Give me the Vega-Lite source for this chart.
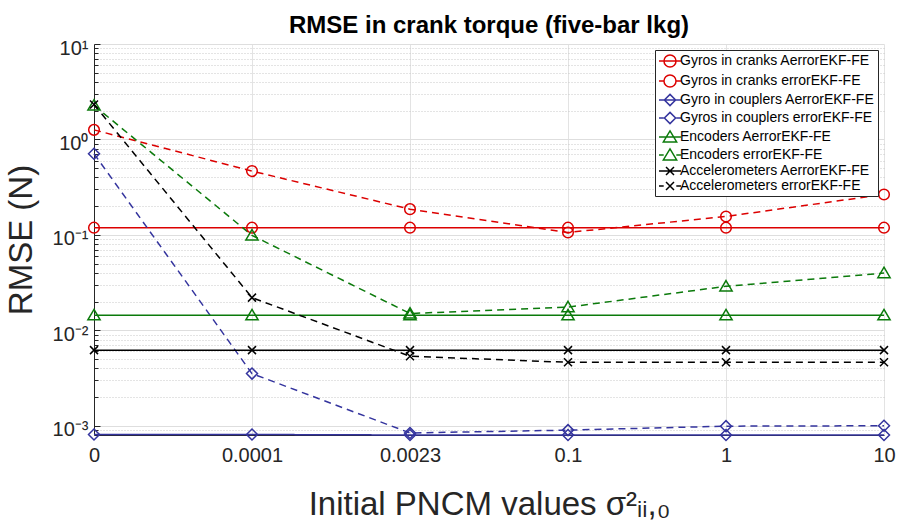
{
  "$schema": "https://vega.github.io/schema/vega-lite/v6.json",
  "width": 790,
  "height": 391,
  "autosize": "none",
  "padding": {"left": 94, "top": 44, "right": 14, "bottom": 97},
  "background": "white",
  "config": {
    "font": "Liberation Sans",
    "view": {"stroke": null},
    "legend": {
      "orient": "top-right",
      "offset": 6,
      "padding": 3,
      "strokeColor": "#262626",
      "fillColor": "white",
      "labelFontSize": 14,
      "labelFont": "Liberation Sans",
      "labelColor": "#000000",
      "labelLimit": 400,
      "labelOffset": 2,
      "symbolOffset": 4,
      "symbolSize": 196,
      "symbolStrokeWidth": 1.5,
      "rowPadding": 0,
      "title": null
    }
  },
  "title": {
    "text": "RMSE in crank torque (five-bar lkg)",
    "fontSize": 24,
    "fontWeight": "bold",
    "font": "Liberation Sans",
    "color": "#000000",
    "anchor": "middle",
    "offset": 0
  },
  "data": {
    "values": [
      {"series": "Gyros in cranks AerrorEKF-FE", "estimator": "AerrorEKF-FE", "sigma": "0", "rmse": 0.119},
      {"series": "Gyros in cranks AerrorEKF-FE", "estimator": "AerrorEKF-FE", "sigma": "0.0001", "rmse": 0.119},
      {"series": "Gyros in cranks AerrorEKF-FE", "estimator": "AerrorEKF-FE", "sigma": "0.0023", "rmse": 0.119},
      {"series": "Gyros in cranks AerrorEKF-FE", "estimator": "AerrorEKF-FE", "sigma": "0.1", "rmse": 0.119},
      {"series": "Gyros in cranks AerrorEKF-FE", "estimator": "AerrorEKF-FE", "sigma": "1", "rmse": 0.119},
      {"series": "Gyros in cranks AerrorEKF-FE", "estimator": "AerrorEKF-FE", "sigma": "10", "rmse": 0.119},
      {"series": "Gyros in cranks errorEKF-FE", "estimator": "errorEKF-FE", "sigma": "0", "rmse": 1.26},
      {"series": "Gyros in cranks errorEKF-FE", "estimator": "errorEKF-FE", "sigma": "0.0001", "rmse": 0.466},
      {"series": "Gyros in cranks errorEKF-FE", "estimator": "errorEKF-FE", "sigma": "0.0023", "rmse": 0.186},
      {"series": "Gyros in cranks errorEKF-FE", "estimator": "errorEKF-FE", "sigma": "0.1", "rmse": 0.106},
      {"series": "Gyros in cranks errorEKF-FE", "estimator": "errorEKF-FE", "sigma": "1", "rmse": 0.156},
      {"series": "Gyros in cranks errorEKF-FE", "estimator": "errorEKF-FE", "sigma": "10", "rmse": 0.265},
      {"series": "Gyro in couplers AerrorEKF-FE", "estimator": "AerrorEKF-FE", "sigma": "0", "rmse": 0.00081},
      {"series": "Gyro in couplers AerrorEKF-FE", "estimator": "AerrorEKF-FE", "sigma": "0.0001", "rmse": 0.00081},
      {"series": "Gyro in couplers AerrorEKF-FE", "estimator": "AerrorEKF-FE", "sigma": "0.0023", "rmse": 0.0008},
      {"series": "Gyro in couplers AerrorEKF-FE", "estimator": "AerrorEKF-FE", "sigma": "0.1", "rmse": 0.0008},
      {"series": "Gyro in couplers AerrorEKF-FE", "estimator": "AerrorEKF-FE", "sigma": "1", "rmse": 0.0008},
      {"series": "Gyro in couplers AerrorEKF-FE", "estimator": "AerrorEKF-FE", "sigma": "10", "rmse": 0.0008},
      {"series": "Gyros in couplers errorEKF-FE", "estimator": "errorEKF-FE", "sigma": "0", "rmse": 0.708},
      {"series": "Gyros in couplers errorEKF-FE", "estimator": "errorEKF-FE", "sigma": "0.0001", "rmse": 0.00352},
      {"series": "Gyros in couplers errorEKF-FE", "estimator": "errorEKF-FE", "sigma": "0.0023", "rmse": 0.00084},
      {"series": "Gyros in couplers errorEKF-FE", "estimator": "errorEKF-FE", "sigma": "0.1", "rmse": 0.0009},
      {"series": "Gyros in couplers errorEKF-FE", "estimator": "errorEKF-FE", "sigma": "1", "rmse": 0.00099},
      {"series": "Gyros in couplers errorEKF-FE", "estimator": "errorEKF-FE", "sigma": "10", "rmse": 0.001},
      {"series": "Encoders AerrorEKF-FE", "estimator": "AerrorEKF-FE", "sigma": "0", "rmse": 0.0144},
      {"series": "Encoders AerrorEKF-FE", "estimator": "AerrorEKF-FE", "sigma": "0.0001", "rmse": 0.0144},
      {"series": "Encoders AerrorEKF-FE", "estimator": "AerrorEKF-FE", "sigma": "0.0023", "rmse": 0.0144},
      {"series": "Encoders AerrorEKF-FE", "estimator": "AerrorEKF-FE", "sigma": "0.1", "rmse": 0.0144},
      {"series": "Encoders AerrorEKF-FE", "estimator": "AerrorEKF-FE", "sigma": "1", "rmse": 0.0144},
      {"series": "Encoders AerrorEKF-FE", "estimator": "AerrorEKF-FE", "sigma": "10", "rmse": 0.0144},
      {"series": "Encoders errorEKF-FE", "estimator": "errorEKF-FE", "sigma": "0", "rmse": 2.27},
      {"series": "Encoders errorEKF-FE", "estimator": "errorEKF-FE", "sigma": "0.0001", "rmse": 0.0988},
      {"series": "Encoders errorEKF-FE", "estimator": "errorEKF-FE", "sigma": "0.0023", "rmse": 0.015},
      {"series": "Encoders errorEKF-FE", "estimator": "errorEKF-FE", "sigma": "0.1", "rmse": 0.0175},
      {"series": "Encoders errorEKF-FE", "estimator": "errorEKF-FE", "sigma": "1", "rmse": 0.0289},
      {"series": "Encoders errorEKF-FE", "estimator": "errorEKF-FE", "sigma": "10", "rmse": 0.0398},
      {"series": "Accelerometers AerrorEKF-FE", "estimator": "AerrorEKF-FE", "sigma": "0", "rmse": 0.0062},
      {"series": "Accelerometers AerrorEKF-FE", "estimator": "AerrorEKF-FE", "sigma": "0.0001", "rmse": 0.0062},
      {"series": "Accelerometers AerrorEKF-FE", "estimator": "AerrorEKF-FE", "sigma": "0.0023", "rmse": 0.0062},
      {"series": "Accelerometers AerrorEKF-FE", "estimator": "AerrorEKF-FE", "sigma": "0.1", "rmse": 0.0062},
      {"series": "Accelerometers AerrorEKF-FE", "estimator": "AerrorEKF-FE", "sigma": "1", "rmse": 0.0062},
      {"series": "Accelerometers AerrorEKF-FE", "estimator": "AerrorEKF-FE", "sigma": "10", "rmse": 0.0062},
      {"series": "Accelerometers errorEKF-FE", "estimator": "errorEKF-FE", "sigma": "0", "rmse": 2.32},
      {"series": "Accelerometers errorEKF-FE", "estimator": "errorEKF-FE", "sigma": "0.0001", "rmse": 0.022},
      {"series": "Accelerometers errorEKF-FE", "estimator": "errorEKF-FE", "sigma": "0.0023", "rmse": 0.00535},
      {"series": "Accelerometers errorEKF-FE", "estimator": "errorEKF-FE", "sigma": "0.1", "rmse": 0.00462},
      {"series": "Accelerometers errorEKF-FE", "estimator": "errorEKF-FE", "sigma": "1", "rmse": 0.00462},
      {"series": "Accelerometers errorEKF-FE", "estimator": "errorEKF-FE", "sigma": "10", "rmse": 0.00462}
    ]
  },
  "encoding": {
    "x": {
      "field": "sigma",
      "type": "ordinal",
      "scale": {"type": "point", "padding": 0, "domain": ["0", "0.0001", "0.0023", "0.1", "1", "10"]},
      "axis": {
        "title": "Initial PNCM values σ²ᵢᵢ,₀",
        "titleFontSize": 33,
        "titleFontWeight": "normal",
        "titleColor": "#262626",
        "titlePadding": 23,
        "labelFontSize": 20,
        "labelColor": "#262626",
        "labelAngle": 0,
        "labelPadding": 10,
        "ticks": false,
        "domain": true,
        "domainColor": "#262626",
        "grid": true,
        "gridColor": "#e3e3e3",
        "gridWidth": 1
      }
    },
    "y": {
      "field": "rmse",
      "type": "quantitative",
      "scale": {"type": "log", "domain": [0.0008, 10], "nice": false},
      "axis": {
        "title": "RMSE (N)",
        "titleFontSize": 33,
        "titleFontWeight": "normal",
        "titleColor": "#262626",
        "titlePadding": 14,
        "values": [0.0009, 0.001, 0.002, 0.003, 0.004, 0.005, 0.006, 0.007, 0.008, 0.009, 0.01, 0.02, 0.03, 0.04, 0.05, 0.06, 0.07, 0.08, 0.09, 0.1, 0.2, 0.3, 0.4, 0.5, 0.6, 0.7, 0.8, 0.9, 1, 2, 3, 4, 5, 6, 7, 8, 9, 10],
        "labelExpr": "datum.value == 10 ? '10¹' : datum.value == 1 ? '10⁰' : datum.value == 0.1 ? '10⁻¹' : datum.value == 0.01 ? '10⁻²' : datum.value == 0.001 ? '10⁻³' : ''",
        "labelFontSize": 20,
        "labelColor": "#262626",
        "labelPadding": 12,
        "labelOffset": 4,
        "labelOverlap": false,
        "labelBound": false,
        "domain": true,
        "domainColor": "#262626",
        "ticks": true,
        "tickColor": "#262626",
        "tickSize": {"condition": {"test": "indexof([0.001, 0.01, 0.1, 1, 10], datum.value) >= 0", "value": -6}, "value": -4},
        "grid": true,
        "gridColor": {"condition": {"test": "indexof([0.001, 0.01, 0.1, 1, 10], datum.value) >= 0", "value": "#dedede"}, "value": "#c8c8c8"},
        "gridDash": {"condition": {"test": "indexof([0.001, 0.01, 0.1, 1, 10], datum.value) >= 0", "value": []}, "value": [1, 2]}
      }
    },
    "color": {
      "field": "series",
      "type": "nominal",
      "scale": {
        "domain": ["Gyros in cranks AerrorEKF-FE", "Gyros in cranks errorEKF-FE", "Gyro in couplers AerrorEKF-FE", "Gyros in couplers errorEKF-FE", "Encoders AerrorEKF-FE", "Encoders errorEKF-FE", "Accelerometers AerrorEKF-FE", "Accelerometers errorEKF-FE"],
        "range": ["#dc0000", "#dc0000", "#34349e", "#34349e", "#0b7a0b", "#0b7a0b", "#000000", "#000000"]
      },
      "legend": {
        "title": null,
        "encode": {
          "symbols": {
            "update": {
              "shape": {"signal": "(indexof(datum.value, 'Aerror') >= 0 ? 'M-1.57,0L1.57,0' : 'M-1.57,0L-0.9,0M0.9,0L1.57,0') + (indexof(datum.value, 'cranks') >= 0 ? 'M0.86,0A0.86,0.86,0,1,1,-0.86,0A0.86,0.86,0,1,1,0.86,0' : indexof(datum.value, 'couplers') >= 0 ? 'M0,-0.8L0.8,0L0,0.8L-0.8,0Z' : indexof(datum.value, 'Encoders') >= 0 ? 'M0,-0.86L0.95,0.7L-0.95,0.7Z' : 'M-0.57,-0.57L0.57,0.57M-0.57,0.57L0.57,-0.57')"},
              "fill": {"value": "transparent"},
              "strokeWidth": {"value": 1.5}
            }
          }
        }
      }
    }
  },
  "layer": [
    {
      "mark": {"type": "line", "strokeWidth": 1.5},
      "encoding": {
        "detail": {"field": "series", "type": "nominal"},
        "strokeDash": {
          "field": "estimator",
          "type": "nominal",
          "scale": {"domain": ["AerrorEKF-FE", "errorEKF-FE"], "range": [[1, 0], [7, 5]]},
          "legend": null
        }
      }
    },
    {
      "transform": [{"filter": "indexof(datum.series, 'cranks') >= 0"}],
      "mark": {"type": "point", "shape": "circle", "filled": false, "size": 113, "strokeWidth": 1.5, "opacity": 1}
    },
    {
      "transform": [{"filter": "indexof(datum.series, 'couplers') >= 0"}],
      "mark": {"type": "point", "shape": "diamond", "filled": false, "size": 121, "strokeWidth": 1.5, "opacity": 1}
    },
    {
      "transform": [{"filter": "indexof(datum.series, 'Encoders') >= 0"}],
      "mark": {"type": "point", "shape": "M0,-0.95L1,0.75L-1,0.75Z", "filled": false, "size": 150, "strokeWidth": 1.5, "opacity": 1}
    },
    {
      "transform": [{"filter": "indexof(datum.series, 'Accelerometers') >= 0"}],
      "mark": {"type": "point", "shape": "M-1,-1L1,1M-1,1L1,-1", "filled": false, "size": 64, "strokeWidth": 1.5, "opacity": 1}
    }
  ]
}
